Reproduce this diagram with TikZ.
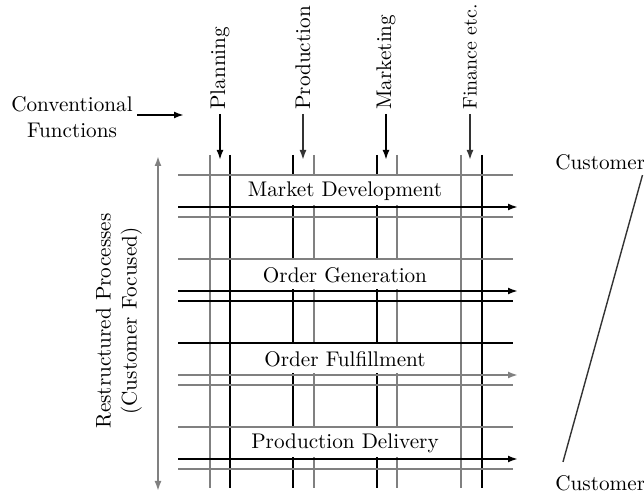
\documentclass[tikz,border=0pt]{standalone}
\usetikzlibrary{arrows.meta}

\newcommand\lbl{\fontsize{10.6pt}{13pt}\selectfont}

\tikzset{
  heavy/.style={line width=1pt, black},
  light/.style={line width=0.9pt, black!50},
  flow/.style={-{Latex[length=5pt,width=3.5pt]}},
  proc/.style={fill=white, inner sep=0pt, minimum width=100pt, minimum height=14.5pt, font=\lbl},
  func/.style={rotate=90, anchor=west, inner sep=2pt, font=\lbl},
}

\begin{document}
\begin{tikzpicture}[x=0.5pt, y=-0.5pt]

  \useasboundingbox (0,0) rectangle (644,502);

  % Colonnes : une paire de traits par fonction
  \foreach \xa/\sa/\xb/\sb in {210/light/230/heavy, 293/heavy/314/light,
                               377/heavy/397/light, 461/light/482/heavy}{
    \draw[\sa] (\xa,155) -- (\xa,488);
    \draw[\sb] (\xb,155) -- (\xb,488);
  }

  % Lignes : haut, fleche, bas pour chaque processus
  \foreach \y/\sa/\sb/\sc in {175/light/heavy/light, 259/light/heavy/heavy,
                              343/heavy/light/light, 427/light/heavy/light}{
    \draw[\sa] (178,\y) -- (513,\y);
    \draw[\sb, flow] (178,\y+32) -- (518,\y+32);
    \draw[\sc] (178,\y+42) -- (513,\y+42);
  }

  % Processus
  \node[proc] (mdev) at (345,191) {Market Development};
  \node[proc] (ogen) at (345,275) {Order Generation};
  \node[proc] (oful) at (345,359) {Order Fulfillment};
  \node[proc] (pdel) at (345,443) {Production Delivery};

  % Fonctions
  \node[func] (plan) at (220,114) {Planning};
  \node[func] (prod) at (303,114) {Production};
  \node[func] (mark) at (386,114) {Marketing};
  \node[func, font=\fontsize{9.9pt}{12pt}\selectfont] (fin) at (470,114) {Finance etc.};
  \coordinate (ftop) at (0,160);
  \draw[heavy, flow] (plan.west) -- (plan.west |- ftop);
  \draw[light, black!80, flow] (prod.west) -- (prod.west |- ftop);
  \draw[heavy, flow] (mark.west) -- (mark.west |- ftop);
  \draw[light, black!80, flow] (fin.west) -- (fin.west |- ftop);

  % Conventional Functions
  \node[font=\lbl, align=center, inner sep=2pt] (conv) at (72,117) {Conventional\\Functions};
  \coordinate (convtip) at (184,115);
  \draw[heavy, flow] (conv.east |- convtip) -- (convtip);

  % Axe vertical gauche
  \node[font=\lbl, align=center, rotate=90] (restr) at (119,321)
    {Restructured Processes\\(Customer Focused)};
  \coordinate (rtop) at (158,156);
  \coordinate (rbot) at (158,491);
  \draw[light, {Latex[length=5pt,width=3.5pt]}-{Latex[length=5pt,width=3.5pt]}] (rtop) -- (rbot);

  % Customer -- Customer
  \node[font=\lbl, anchor=west, inner sep=0pt] (ctop) at (555,162) {Customer};
  \node[font=\lbl, anchor=west, inner sep=0pt] (cbot) at (555,483) {Customer};
  \draw[line width=0.7pt, black!80] ([xshift=-1.5pt, yshift=-2.5pt]ctop.south east)
    -- ([xshift=4pt, yshift=6.5pt]cbot.north west);

\end{tikzpicture}
\end{document}
